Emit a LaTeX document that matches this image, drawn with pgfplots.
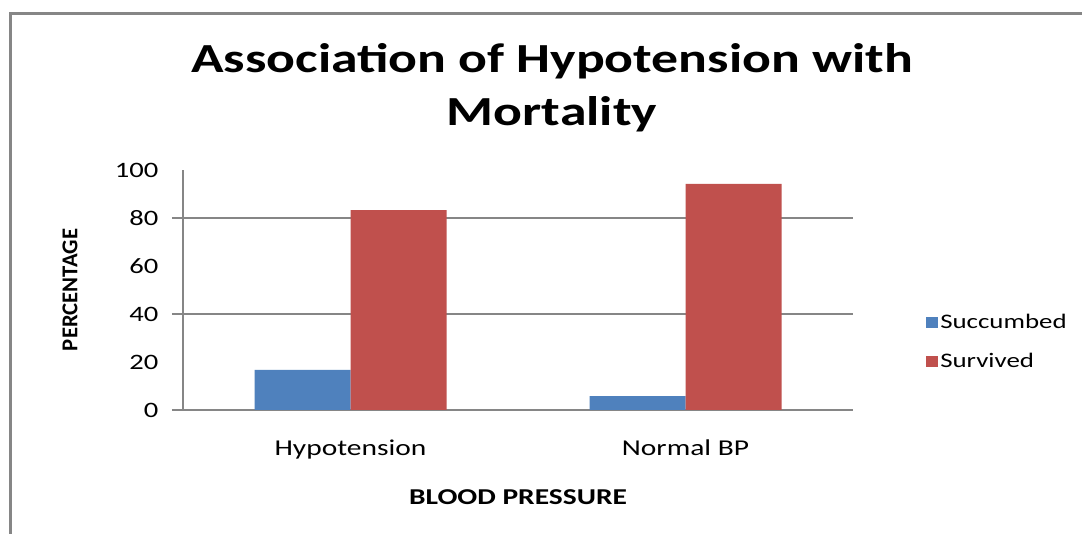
\documentclass[border=0pt]{standalone}
\usepackage{fontspec}
\setmainfont{Carlito}[FakeStretch=1.3]
\newfontfamily\plainfont{Carlito}
\usepackage{pgfplots}
\pgfplotsset{compat=1.18}
\definecolor{barblue}{HTML}{4F81BD}
\definecolor{barred}{HTML}{C0504D}
\definecolor{linegray}{HTML}{868686}
\begin{document}
\begin{tikzpicture}[x=0.75pt,y=0.75pt]
\path[use as bounding box, fill=white] (0,0) rectangle (1082,534);
\draw[linegray, line width=2.25pt] (10,0) -- (10,520) -- (1082,520);
\node[align=center, font=\bfseries\fontsize{31}{40}\selectfont] at (552,446) {Association of Hypotension with\\Mortality};
\begin{axis}[
  at={(137.25pt,93pt)}, anchor=south west,
  scale only axis, width=502.5pt, height=180pt,
  ybar=0pt, bar width=72pt,
  xmin=-0.5, xmax=1.5, ymin=0, ymax=100,
  axis lines*=left,
  axis line style={linegray, line width=0.9pt},
  xtick={0,1}, xticklabels={Hypotension, Normal BP},
  ytick={0,20,...,100},
  major tick length=0pt,
  extra y ticks={0,40,80}, extra y tick labels={},
  extra y tick style={grid=major, major grid style={linegray, line width=0.9pt}, major tick length=8.25pt, tick align=outside, tick style={linegray, line width=0.9pt}},
  /pgf/number format/assume math mode=true,
  yticklabel style={font=\fontsize{16.5}{18}\selectfont, xshift=-15pt},
  xticklabel style={font=\fontsize{17}{19}\selectfont, anchor=base, yshift=-34.5pt},
  xlabel={BLOOD PRESSURE},
  xlabel style={font=\bfseries\fontsize{17}{19}\selectfont, at={(axis description cs:0.5,-0.3625)}, anchor=center},
  ylabel={PERCENTAGE},
  ylabel style={font=\plainfont\bfseries\fontsize{17}{19}\selectfont, at={(axis description cs:-0.1687,0.5)}, anchor=center},
  legend style={at={(1.109,0.283)}, anchor=west, draw=none, fill=none, inner sep=0pt,
    font=\fontsize{15.5}{17}\selectfont, row sep=13pt, cells={anchor=west}},
  legend image code/.code={\fill[#1] (0pt,-4.2pt) rectangle (8.5pt,4.2pt);},
]
\addplot[fill=barblue, draw=none] coordinates {(0,16.7) (1,5.8)};
\addplot[fill=barred, draw=none] coordinates {(0,83.3) (1,94.2)};
\legend{Succumbed, Survived}
\end{axis}
\end{tikzpicture}
\end{document}
